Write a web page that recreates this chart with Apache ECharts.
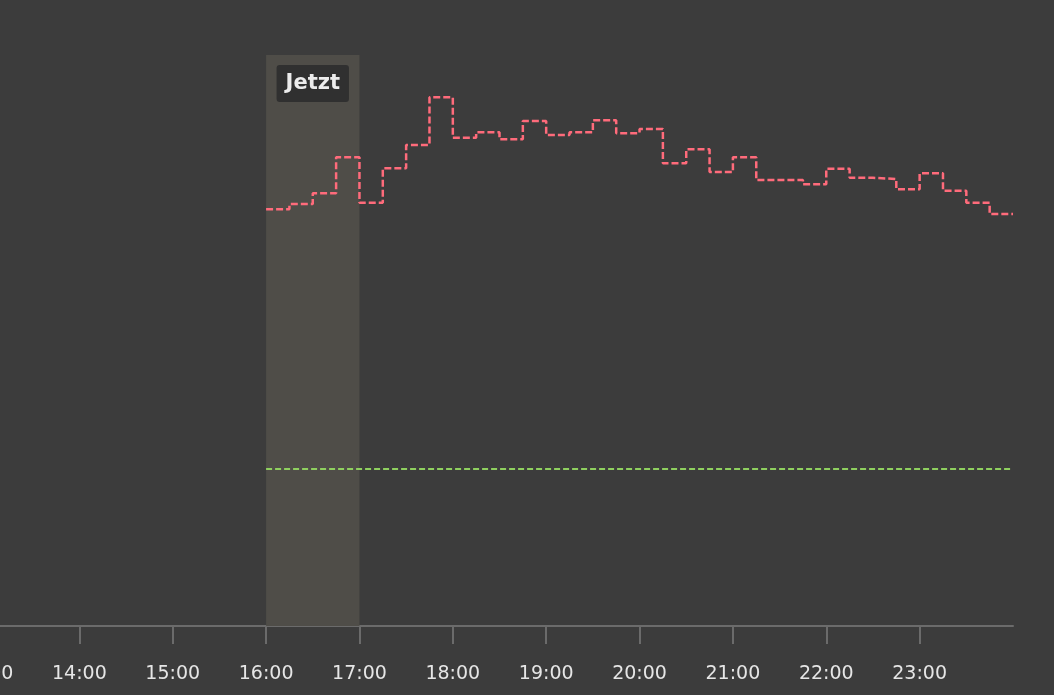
<!DOCTYPE html>
<html>
<head>
<meta charset="utf-8">
<script src="https://cdn.jsdelivr.net/npm/echarts@6/dist/echarts.min.js"></script>
<style>
html, body { margin: 0; padding: 0; background: #3c3c3c; }
#chart { width: 1054px; height: 695px; }
</style>
</head>
<body>
<div id="chart"></div>
<script>
// viertelstunden ab jetzt
var slotTimes = [
	"16:00", "16:15", "16:30", "16:45", "17:00", "17:15", "17:30", "17:45",
	"18:00", "18:15", "18:30", "18:45", "19:00", "19:15", "19:30", "19:45",
	"20:00", "20:15", "20:30", "20:45", "21:00", "21:15", "21:30", "21:45",
	"22:00", "22:15", "22:30", "22:45", "23:00", "23:15", "23:30", "23:45"
];
var priceValues = [
	29.19, 29.56, 30.31, 32.83, 29.65, 32.06, 33.70, 37.04,
	34.21, 34.59, 34.09, 35.38, 34.40, 34.59, 35.43, 34.52,
	34.82, 32.41, 33.39, 31.80, 32.83, 31.24, 31.24, 30.94,
	32.04, 31.40, 31.31, 30.59, 31.71, 30.49, 29.65, 28.86
];
var limitValue = 11.0;
var limitRange = ["16:00", "24:00"];
var nowRange = ["16:00", "17:00"];
var tickLabels = ["13:00", "14:00", "15:00", "16:00", "17:00", "18:00",
	"19:00", "20:00", "21:00", "22:00", "23:00"];

function toHour(s) {
	var p = s.split(":");
	return parseInt(p[0], 10) + parseInt(p[1], 10) / 60;
}

var priceData = slotTimes.map(function(t, i) {
	return [toHour(t), priceValues[i]];
});
// letzte stufe bis zum ende halten
priceData.push([toHour("24:00"), priceValues[priceValues.length - 1]]);

var limitData = limitRange.map(function(t) {
	return [toHour(t), limitValue];
});

var tickHours = tickLabels.map(toHour);

var voChart = echarts.init(document.getElementById("chart"));

var voOption = {
	backgroundColor: "#3c3c3c",
	animation: false,
	grid: {
		left: -14,
		right: 41,
		top: 55,
		bottom: 69,
		outerBoundsMode: "none",
		containLabel: false
	},
	xAxis: {
		type: "value",
		min: 13,
		max: 24,
		interval: 1,
		splitLine: { show: false },
		axisLine: {
			show: true,
			lineStyle: { color: "#6b6b6b", width: 2 }
		},
		axisTick: {
			show: true,
			length: 18,
			customValues: tickHours,
			lineStyle: { color: "#6b6b6b", width: 2 }
		},
		axisLabel: {
			customValues: tickHours,
			color: "#e6e6e6",
			fontFamily: "DejaVu Sans",
			fontSize: 19,
			margin: 39,
			hideOverlap: false,
			formatter: function(v) {
				var h = Math.floor(v);
				return (h < 10 ? "0" : "") + h + ":00";
			}
		}
	},
	yAxis: {
		type: "value",
		min: 0,
		max: 40,
		show: false
	},
	series: [
		{
			name: "Preis",
			type: "line",
			step: "end",
			symbol: "none",
			data: priceData,
			lineStyle: {
				color: "#ff6b7b",
				width: 2.5,
				type: [7, 3]
			},
			markArea: {
				silent: true,
				itemStyle: { color: "#4f4d48" },
				label: {
					show: true,
					position: "insideTop",
					distance: 10,
					color: "#ececec",
					fontFamily: "DejaVu Sans",
					fontWeight: "bold",
					fontSize: 21,
					lineHeight: 21,
					backgroundColor: "#303030",
					borderRadius: 3,
					padding: [8, 9, 8, 9]
				},
				data: [[
					{ name: "Jetzt", xAxis: toHour(nowRange[0]) },
					{ xAxis: toHour(nowRange[1]) }
				]]
			},
			z: 3
		},
		{
			name: "Grenze",
			type: "line",
			symbol: "none",
			data: limitData,
			lineStyle: {
				color: "#8fd05f",
				width: 2,
				type: [6, 3]
			},
			z: 2
		}
	]
};

voChart.setOption(voOption);

window.addEventListener("resize", function() {
	voChart.resize();
});
</script>
</body>
</html>
